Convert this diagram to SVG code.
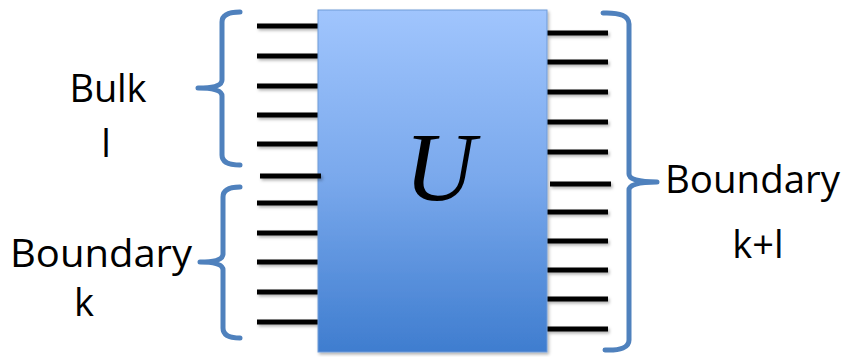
<svg xmlns="http://www.w3.org/2000/svg" width="854" height="357" viewBox="0 0 854 357">
<style>
.wire{stroke:#000;stroke-width:5;stroke-linecap:butt}
.brace{fill:none;stroke:#4F81BD;stroke-width:5;stroke-linecap:round;stroke-linejoin:round}
.lbl{font-family:"Open Sans","Liberation Sans",sans-serif;font-size:38px;fill:#000}
</style>
<defs>
<linearGradient id="g" x1="0" y1="0" x2="0" y2="1">
<stop offset="0" stop-color="#A0C5FD"/>
<stop offset="0.5" stop-color="#79A8EC"/>
<stop offset="1" stop-color="#3F7DCF"/>
</linearGradient>
<filter id="sh" filterUnits="userSpaceOnUse" x="0" y="0" width="854" height="357">
<feDropShadow dx="1.5" dy="2" stdDeviation="1.5" flood-color="#000" flood-opacity="0.3"/>
</filter>
</defs>
<rect width="854" height="357" fill="#fff"/>
<g id="connectors" filter="url(#sh)">
<g id="left-wires">
<line class="wire" x1="257" y1="26" x2="318" y2="26"/>
<line class="wire" x1="257" y1="56" x2="318" y2="56"/>
<line class="wire" x1="257" y1="86" x2="318" y2="86"/>
<line class="wire" x1="257" y1="115" x2="318" y2="115"/>
<line class="wire" x1="257" y1="144" x2="318" y2="144"/>
<line class="wire" x1="257" y1="203" x2="318" y2="203"/>
<line class="wire" x1="257" y1="233" x2="318" y2="233"/>
<line class="wire" x1="257" y1="262" x2="318" y2="262"/>
<line class="wire" x1="257" y1="292" x2="318" y2="292"/>
<line class="wire" x1="257" y1="322" x2="318" y2="322"/>
</g>
<g id="right-wires">
<line class="wire" x1="547" y1="33" x2="608" y2="33"/>
<line class="wire" x1="547" y1="62" x2="608" y2="62"/>
<line class="wire" x1="547" y1="92" x2="608" y2="92"/>
<line class="wire" x1="547" y1="122" x2="608" y2="122"/>
<line class="wire" x1="547" y1="152" x2="608" y2="152"/>
<line class="wire" x1="547" y1="212" x2="608" y2="212"/>
<line class="wire" x1="547" y1="241" x2="608" y2="241"/>
<line class="wire" x1="547" y1="270" x2="608" y2="270"/>
<line class="wire" x1="547" y1="299" x2="608" y2="299"/>
<line class="wire" x1="547" y1="329" x2="608" y2="329"/>
</g>
</g>
<g id="U-box">
<rect x="318" y="10" width="229" height="342" fill="url(#g)" stroke="#6F9BD8" stroke-width="1" filter="url(#sh)"/>
<text x="440" y="200" font-family="'Liberation Serif','DejaVu Serif',serif" font-style="italic" font-size="98" text-anchor="middle" fill="#000">U</text>
</g>
<g id="middle-wires" filter="url(#sh)">
<line class="wire" x1="260" y1="176" x2="321" y2="176"/>
<line class="wire" x1="550" y1="184" x2="611" y2="184"/>
</g>
<g id="brace-bulk">
<path class="brace" d="M240,12 Q222,12 222,22 L222,80 Q222,88 198,88 Q222,88 222,96 L222,155 Q222,165 240,165"/>
<text class="lbl" x="108" y="102" text-anchor="middle" textLength="77">Bulk</text>
<text class="lbl" x="106" y="157" text-anchor="middle">l</text>
</g>
<g id="brace-boundary-k">
<path class="brace" d="M240,187 Q223,187 223,197 L223,254 Q223,262 200,262 Q223,262 223,270 L223,328 Q223,338 240,338"/>
<text class="lbl" x="10" y="267" textLength="182" lengthAdjust="spacingAndGlyphs">Boundary</text>
<text class="lbl" x="84" y="316" text-anchor="middle">k</text>
</g>
<g id="brace-boundary-kl">
<path class="brace" d="M603,13 Q629,12 629,24 L629,174 Q629,182 657,182 Q629,182 629,190 L629,340 Q629,351 605,350"/>
<text class="lbl" x="665" y="193" textLength="175" lengthAdjust="spacingAndGlyphs">Boundary</text>
<text class="lbl" x="758" y="258" text-anchor="middle">k+l</text>
</g>
</svg>
